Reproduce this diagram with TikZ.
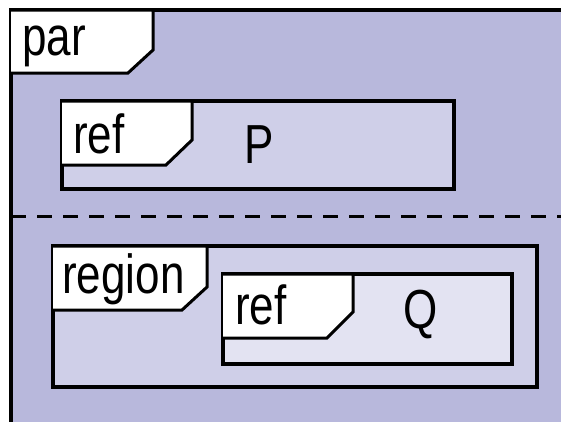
\documentclass[tikz,border=0pt]{standalone}
\usepackage{fontspec}
\setmainfont{Liberation Sans}
\definecolor{outerfill}{HTML}{B8B8DC}
\definecolor{midfill}{HTML}{CFCFE8}
\definecolor{innerfill}{HTML}{E3E3F2}
\newcommand{\lbl}[1]{\scalebox{0.8}[1]{#1}}
\begin{document}
\begin{tikzpicture}[x=1pt,y=-1pt,
  frameline/.style={draw=black,line width=3.5pt},
  tabshape/.style={fill=white,draw=black,line width=3pt,line join=miter},
  boxshape/.style={draw=black,line width=3.5pt},
  txt/.style={anchor=base west,inner sep=0pt,font=\fontsize{55}{60}\selectfont}]
\useasboundingbox (0,0) rectangle (561,421);
\fill[white] (0,0) rectangle (561,421);
% outer par frame
\fill[outerfill] (11,10) rectangle (566,426);
\draw[frameline] (11,426) -- (11,10) -- (566,10);
\draw[tabshape] (11,10) -- (153,10) -- (153,50) -- (128,73) -- (11,73);
\node[txt] (par) at (22,55) {\lbl{par}};
% operand separator
\coordinate (sepL) at (11,216);
\coordinate (sepR) at (561,216);
\draw[black,line width=3pt,dash pattern=on 15pt off 11pt] (sepL) -- (sepR);
% ref P
\draw[boxshape,fill=midfill] (62,101) rectangle (454,189);
\draw[tabshape] (62,101) -- (192,101) -- (192,140) -- (166,165) -- (62,165);
\node[txt] (refP) at (73,153) {\lbl{ref}};
\node[txt] (P) at (244,163) {\lbl{P}};
% region
\draw[boxshape,fill=midfill] (53,246) rectangle (537,387);
\draw[tabshape] (53,246) -- (207,246) -- (207,287) -- (182,310) -- (53,310);
\node[txt] (region) at (62,293) {\lbl{region}};
% ref Q
\draw[boxshape,fill=innerfill] (223,274) rectangle (512,364);
\draw[tabshape] (223,274) -- (353,274) -- (353,312) -- (327,338) -- (223,338);
\node[txt] (refQ) at (235,324) {\lbl{ref}};
\node[txt] (Q) at (403,328) {\lbl{Q}};
\end{tikzpicture}
\end{document}
